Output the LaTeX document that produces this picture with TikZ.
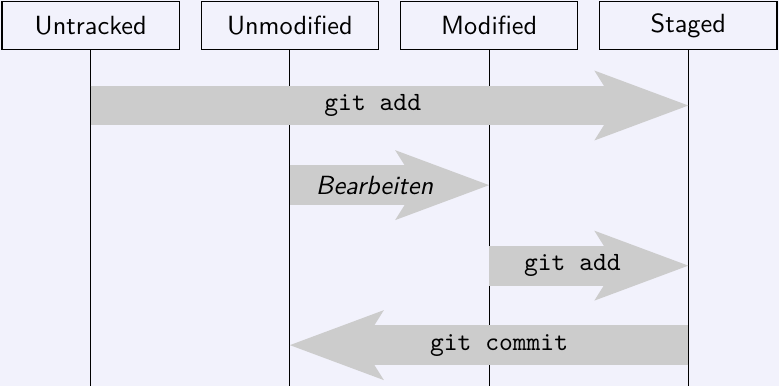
\documentclass[tikz,border=0pt]{standalone}
\usetikzlibrary{arrows.meta}
\renewcommand{\familydefault}{\sfdefault}
\definecolor{slidebg}{RGB}{242,242,252}

\begin{document}
\begin{tikzpicture}[
	state box/.style={draw, minimum width=2.37cm, minimum height=0.64cm},
	action arrow/.style={draw=black!20, line width=0.534cm,
		-{Stealth[length=1.256cm, width=0.935cm, inset=0.294cm, line width=0pt]}},
	command/.style={font=\ttfamily}]

	% slide background
	\fill[slidebg] (0,0) rectangle (10.41,5.16);
	\useasboundingbox (0,0) rectangle (10.41,5.16);

	% states and lifelines
	\foreach \i/\name/\text in {0/untracked/Untracked, 1/unmodified/Unmodified, 2/modified/Modified, 3/staged/Staged} {
		\node[state box] (\name) at (1.212+2.662*\i, 4.816) {\text};
		\coordinate (\name-end) at (1.212+2.662*\i, 0);
		\foreach \r/\y in {1/3.75, 2/2.686, 3/1.61, 4/0.548}
			\coordinate (\name-\r) at (1.212+2.662*\i, \y);
		\draw (\name) -- (\name-end);
	}

	% transitions
	\draw[action arrow] (untracked-1) -- node[pos=0.472, command] {git add} (staged-1);
	\draw[action arrow] (unmodified-2) -- node[pos=0.425, font=\itshape] {Bearbeiten} (modified-2);
	\draw[action arrow] (modified-3) -- node[pos=0.418, command] {git add} (staged-3);
	\draw[action arrow] (staged-4) -- node[pos=0.475, command] {git commit} (unmodified-4);
\end{tikzpicture}
\end{document}
